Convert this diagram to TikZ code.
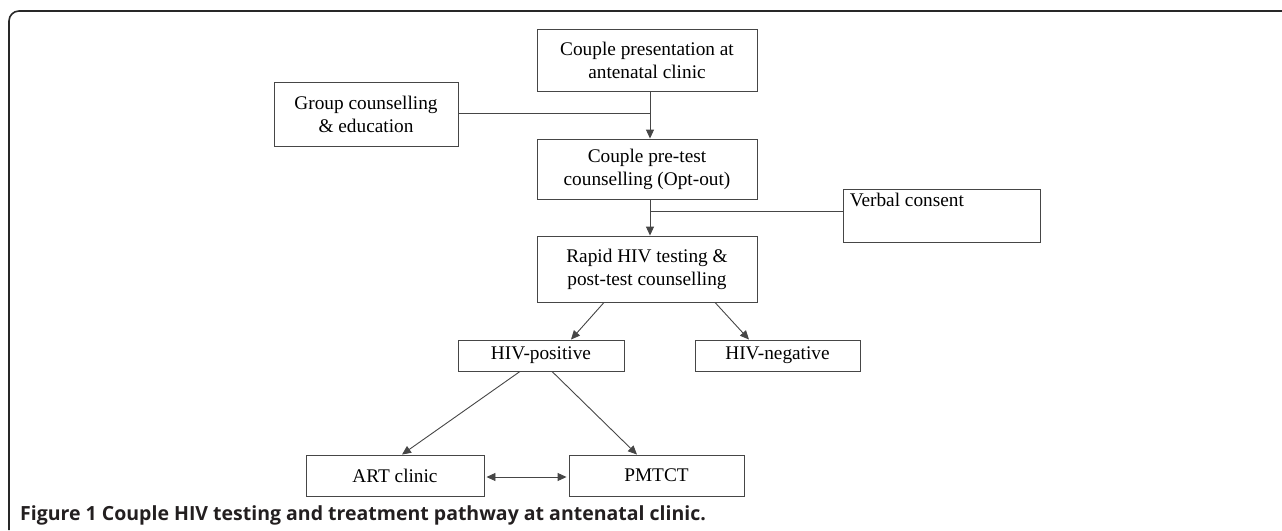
\documentclass[tikz,border=0pt]{standalone}
\usepackage{fontspec}
\setmainfont{Liberation Serif}
\newfontfamily\capfont{Open Sans}
\usetikzlibrary{arrows.meta}
\definecolor{linec}{RGB}{70,70,70}
\definecolor{framec}{RGB}{40,40,40}
\definecolor{capc}{RGB}{35,31,32}
\begin{document}
\begin{tikzpicture}[x=1pt,y=-1pt,
  box/.style={draw=linec,line width=0.9pt,inner sep=0pt,align=center,font=\fontsize{19.3}{23}\selectfont},
  conn/.style={draw=linec,line width=0.9pt},
  arr/.style={conn,-{Triangle[length=9pt,width=8pt]}},
  darr/.style={conn,{Triangle[length=9pt,width=8pt]}-{Triangle[length=9pt,width=8pt]}}]
\useasboundingbox (0,0) rectangle (1282,530);
\draw[framec,line width=1.6pt] (1282,11) -- (19,11) arc[start angle=270,end angle=180,radius=10] -- (9,530);
\node[box,minimum width=220,minimum height=62] (b1) at (647,60) {Couple presentation at\\antenatal clinic};
\node[box,minimum width=220,minimum height=60] (b2) at (647,169) {Couple pre-test\\counselling (Opt-out)};
\node[box,minimum width=220,minimum height=66] (b3) at (647,269) {Rapid HIV testing \&\\post-test counselling};
\node[box,minimum width=184,minimum height=64] (grp) at (366,114) {Group counselling\\\& education};
\node[box,minimum width=197,minimum height=53] (vc) at (941.5,215.5) {};
\node[anchor=north west,inner sep=0pt,font=\fontsize{19.3}{23}\selectfont] (vct) at ([xshift=7pt,yshift=-4pt]vc.north west) {Verbal consent};
\node[box,minimum width=166,minimum height=31] (pos) at (541,355.5) {HIV-positive};
\node[box,minimum width=165,minimum height=31] (neg) at (777.5,355.5) {HIV-negative};
\node[box,minimum width=178,minimum height=41] (art) at (395,475.5) {ART clinic};
\node[box,minimum width=175,minimum height=41] (pm) at (656.5,475.5) {PMTCT};
\coordinate (j1) at (650,113);
\coordinate (j2) at (650,211);
\draw[arr] ([xshift=3pt]b1.south) -- ([xshift=3pt]b2.north);
\draw[conn] (grp.east |- j1) -- (j1);
\draw[arr] ([xshift=3pt]b2.south) -- ([xshift=3pt]b3.north);
\draw[conn] (vc.west |- j2) -- (j2);
\draw[arr] ([xshift=-43pt]b3.south) -- ([xshift=30pt]pos.north);
\draw[arr] ([xshift=68pt]b3.south) -- ([xshift=-28.5pt]neg.north);
\draw[arr] ([xshift=-21pt]pos.south) -- ([xshift=7pt]art.north);
\draw[arr] ([xshift=11pt]pos.south) -- ([xshift=-19.5pt]pm.north);
\draw[darr,shorten <=2pt,shorten >=2pt] (art.east |- 0,477) -- (pm.west |- 0,477);
\node[anchor=west,inner sep=0pt,text=capc,font=\capfont\bfseries\fontsize{19.5}{22}\selectfont] (cap) at (20,515) {Figure 1 Couple HIV testing and treatment pathway at antenatal clinic.};
\end{tikzpicture}
\end{document}
